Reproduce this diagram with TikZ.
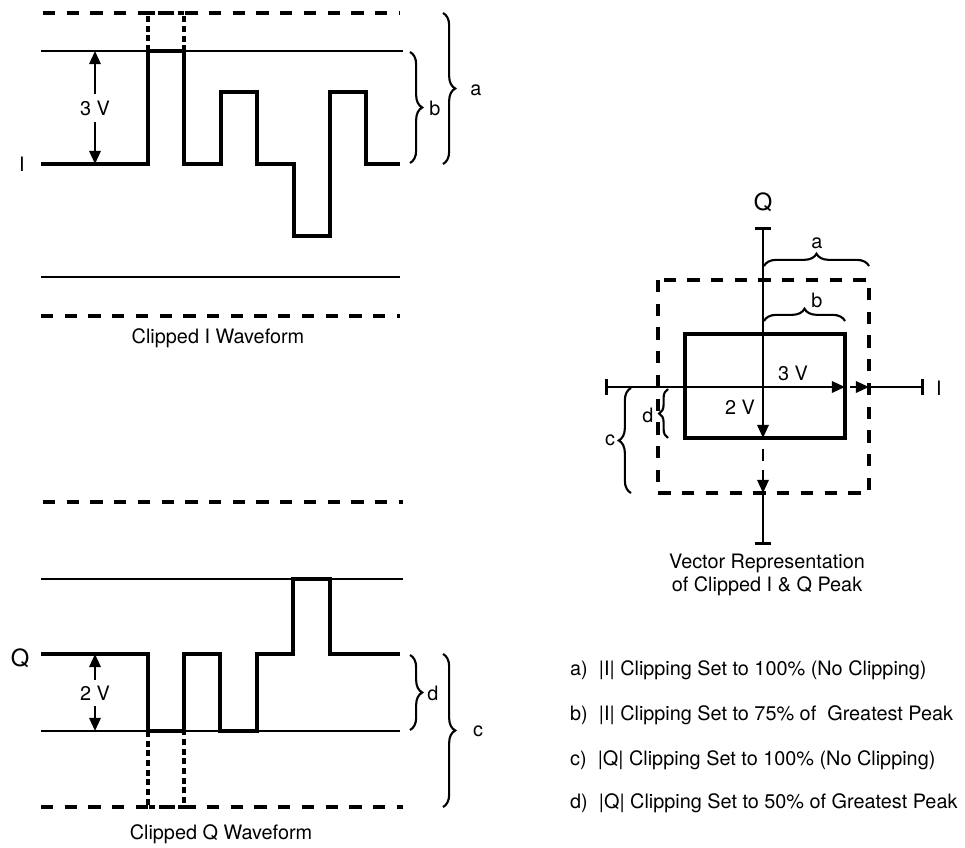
\documentclass[tikz,border=0pt]{standalone}
\usepackage{fontspec}
\setmainfont{TeX Gyre Heros}
\usetikzlibrary{arrows.meta, decorations.pathreplacing}

\begin{document}
\begin{tikzpicture}[x=0.02cm, y=-0.02cm,
        font=\fontsize{11.3}{13}\selectfont,
        refline/.style={line width=1.6pt},
        wave/.style={line width=2.3pt},
        limit/.style={line width=1.8pt, dash pattern=on 7pt off 6.5pt},
        pulse/.style={line width=2.1pt, dash pattern=on 3.5pt off 2pt},
        vbrace/.style={decorate, decoration={brace, amplitude=7pt}, line width=1.2pt},
        arr/.style={line width=1.3pt, -{Triangle[length=7.5pt,width=6.5pt]}}]
    \useasboundingbox (0,0) rectangle (965,848);

    % clipped I waveform
    \draw[limit] (43,13) -- (400,13);
    \draw[refline] (41,51) -- (403,51);
    \draw[refline] (41,277) -- (400,277);
    \draw[limit] (41,316) -- (400,316);
    \draw[pulse] (148,51) -- (148,13) -- (184,13) -- (184,51);
    \draw[wave] (41,164) -- (148,164) -- (148,51) -- (184,51) -- (184,164) -- (221,164) -- (221,92) -- (257,92) -- (257,164)
        -- (294,164) -- (294,236) -- (330,236) -- (330,92) -- (366,92) -- (366,164) -- (400,164);
    \node at (22,164) (ilab) {I};
    \node at (95,108) (ivolt) {3 V};
    \coordinate (itop) at (95,51);
    \coordinate (ibot) at (95,164);
    \draw[arr] (ivolt) -- (itop);
    \draw[arr] (ivolt) -- (ibot);
    \draw[vbrace] (410,52) -- (410,163);
    \node at (435,108) (bi) {b};
    \draw[vbrace] (443,13) -- (443,164);
    \node at (476,90) (ai) {a};
    \node at (218,338) (icap) {Clipped I Waveform};

    % clipped Q waveform
    \draw[limit] (43,502) -- (403,502);
    \draw[refline] (41,579) -- (403,579);
    \draw[refline] (41,731) -- (400,731);
    \draw[limit] (41,807) -- (403,807);
    \draw[pulse] (148,731) -- (148,807) -- (184,807) -- (184,731);
    \draw[wave] (41,654) -- (148,654) -- (148,731) -- (184,731) -- (184,654) -- (220,654) -- (220,731) -- (257,731) -- (257,654)
        -- (293,654) -- (293,579) -- (330,579) -- (330,654) -- (400,654);
    \node at (20,658) (qlab) {\fontsize{13.5}{15}\selectfont Q};
    \node at (95,693) (qvolt) {2 V};
    \coordinate (qtop) at (95,654);
    \coordinate (qbot) at (95,731);
    \draw[arr] (qvolt) -- (qtop);
    \draw[arr] (qvolt) -- (qbot);
    \draw[vbrace] (410,655) -- (410,730);
    \node at (433,693) (dq) {d};
    \draw[vbrace] (443,654) -- (443,807);
    \node at (478,731) (cq) {c};
    \node at (221,834) (qcap) {Clipped Q Waveform};

    % vector representation
    \coordinate (org) at (763,387);
    \coordinate (qend) at (763,227);
    \coordinate (qneg) at (763,545);
    \coordinate (iend) at (924,387);
    \coordinate (ineg) at (605,387);
    \coordinate (iclip) at (845,387);
    \coordinate (ipeak) at (869,387);
    \coordinate (qclip) at (763,438);
    \coordinate (qpeak) at (763,493);
    \draw[refline, {Bar[width=9pt]}-] (qend) -- (org);
    \draw[refline, -{Bar[width=9pt]}] (qpeak) -- (qneg);
    \draw[refline, {Bar[width=9pt]}-] (ineg) -- (org);
    \draw[refline, -{Bar[width=9pt]}] (ipeak) -- (iend);
    \node at (763,202) (qax) {\fontsize{13.5}{15}\selectfont Q};
    \node at (939,388) (iax) {I};
    \draw[limit] (658,280) rectangle (869,493);
    \draw[wave] (685,334) rectangle (845,438);
    \draw[arr] (org) -- (iclip);
    \draw[arr, dash pattern=on 6pt off 4pt, shorten <=3pt] (iclip) -- (ipeak);
    \draw[arr] (org) -- (qclip);
    \draw[arr, dash pattern=on 7pt off 5pt, shorten <=6pt] (qclip) -- (qpeak);
    \node at (793,373) (vi) {3 V};
    \node at (740,407) (vq) {2 V};
    \draw[vbrace] (764,266) -- (869,266);
    \node at (817,243) (av) {a};
    \draw[vbrace] (764,321) -- (845,321);
    \node at (817,300) (bv) {b};
    \draw[vbrace] (631,493) -- (631,388);
    \node at (610,440) (cv) {c};
    \draw[vbrace, decoration={brace, amplitude=5pt}] (668,438) -- (668,389);
    \node at (648,415) (dv) {d};
    \node[align=center] at (767,575) (vcap) {Vector Representation\\of Clipped I \& Q Peak};

    % legend
    \node[anchor=west] at (564,670) (lega) {a)\ \ |I| Clipping Set to 100\% (No Clipping)};
    \node[anchor=west] at (564,715) (legb) {b)\ \ |I| Clipping Set to 75\% of\ \ Greatest Peak};
    \node[anchor=west] at (564,760) (legc) {c)\ \ |Q| Clipping Set to 100\% (No Clipping)};
    \node[anchor=west] at (564,803) (legd) {d)\ \ |Q| Clipping Set to 50\% of Greatest Peak};
\end{tikzpicture}
\end{document}
